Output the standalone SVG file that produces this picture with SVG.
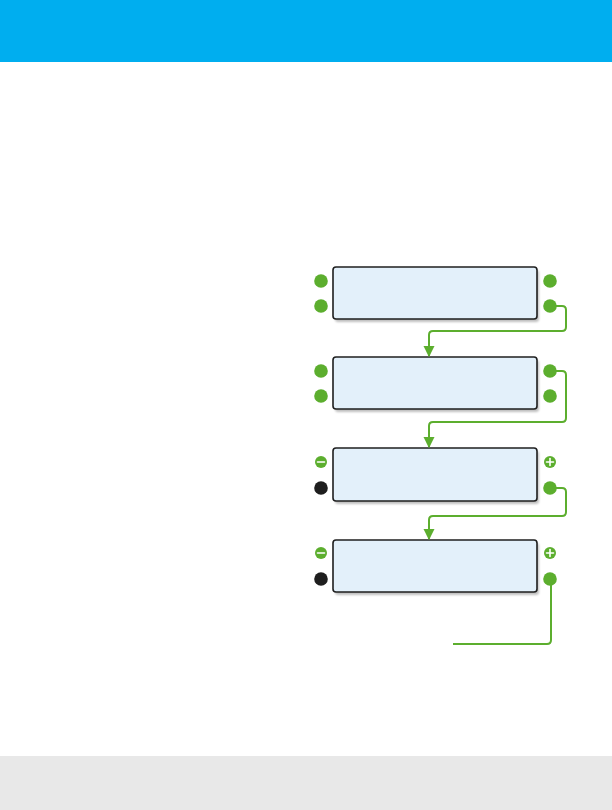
<svg xmlns="http://www.w3.org/2000/svg" width="612" height="810" viewBox="0 0 612 810">
<defs>
<style>
.box{fill:#e3f0fa;stroke:#1f1f1f;stroke-width:1.6}
.shadow{fill:#000;opacity:0.25}
.g{fill:#5cae2e}
.k{fill:#1e1e1e}
.wire{fill:none;stroke:#5cae2e;stroke-width:2;stroke-linejoin:round}
.sym{stroke:#fff;stroke-width:1.6;stroke-linecap:round}
</style>
<filter id="blur" x="-10%" y="-20%" width="120%" height="140%"><feGaussianBlur stdDeviation="1.2"/></filter>
<marker id="arr" viewBox="0 0 10 10" refX="9" refY="5" markerWidth="5.5" markerHeight="6" orient="auto" markerUnits="strokeWidth">
<path d="M0,0 L10,5 L0,10 Z" fill="#5cae2e"/>
</marker>
</defs>
<rect x="0" y="0" width="612" height="62" fill="#00aeef"/>
<rect x="0" y="756" width="612" height="54" fill="#e8e8e8"/>

<g id="battery1">
<rect class="shadow" x="335" y="270" width="204" height="52" rx="3" filter="url(#blur)"/>
<rect class="box" x="333" y="267" width="204" height="52" rx="3"/>
<circle class="g" cx="321" cy="281" r="6.8"/>
<circle class="g" cx="321" cy="306" r="6.8"/>
<circle class="g" cx="550" cy="281" r="6.8"/>
<circle class="g" cx="550" cy="306" r="6.8"/>
</g>
<g id="battery2">
<rect class="shadow" x="335" y="360" width="204" height="52" rx="3" filter="url(#blur)"/>
<rect class="box" x="333" y="357" width="204" height="52" rx="3"/>
<circle class="g" cx="321" cy="371" r="6.8"/>
<circle class="g" cx="321" cy="396" r="6.8"/>
<circle class="g" cx="550" cy="371" r="6.8"/>
<circle class="g" cx="550" cy="396" r="6.8"/>
</g>
<g id="battery3">
<rect class="shadow" x="335" y="451" width="204" height="53" rx="3" filter="url(#blur)"/>
<rect class="box" x="333" y="448" width="204" height="53" rx="3"/>
<circle class="g" cx="321" cy="462" r="6"/>
<line class="sym" x1="317.5" y1="462" x2="324.5" y2="462"/>
<circle class="k" cx="321" cy="488" r="6.8"/>
<circle class="g" cx="550" cy="462" r="6"/>
<line class="sym" x1="546.5" y1="462" x2="553.5" y2="462"/>
<line class="sym" x1="550" y1="458.5" x2="550" y2="465.5"/>
<circle class="g" cx="550" cy="488" r="6.8"/>
</g>
<g id="battery4">
<rect class="shadow" x="335" y="543" width="204" height="52" rx="3" filter="url(#blur)"/>
<rect class="box" x="333" y="540" width="204" height="52" rx="3"/>
<circle class="g" cx="321" cy="553" r="6"/>
<line class="sym" x1="317.5" y1="553" x2="324.5" y2="553"/>
<circle class="k" cx="321" cy="579" r="6.8"/>
<circle class="g" cx="550" cy="553" r="6"/>
<line class="sym" x1="546.5" y1="553" x2="553.5" y2="553"/>
<line class="sym" x1="550" y1="549.5" x2="550" y2="556.5"/>
<circle class="g" cx="550" cy="579" r="6.8"/>
</g>
<g id="connectors">
<path class="wire" d="M550,306 H562 Q566,306 566,310 V327 Q566,331 562,331 H433 Q429,331 429,335 V356" marker-end="url(#arr)"/>
<path class="wire" d="M550,371 H562 Q566,371 566,375 V418 Q566,422 562,422 H433 Q429,422 429,426 V447" marker-end="url(#arr)"/>
<path class="wire" d="M550,488 H562 Q566,488 566,492 V512 Q566,516 562,516 H433 Q429,516 429,520 V539" marker-end="url(#arr)"/>
<path class="wire" d="M551,579 V640 Q551,644 547,644 H453"/>
</g>
</svg>
